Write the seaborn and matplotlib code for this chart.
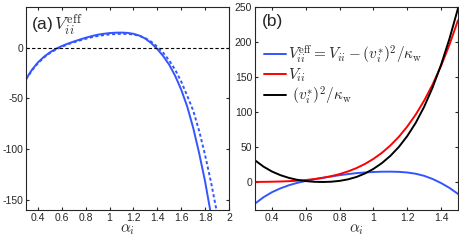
#%%
import numpy as np
import pandas as pd
import matplotlib
matplotlib.use('Agg')
import matplotlib.pyplot as plt
import seaborn as sns

#%%
# values
alpha_b = [0.30, 0.35, 0.40, 0.45, 0.50, 0.55, 0.60, 0.65, 0.70, 0.75, 0.80, 0.85, 0.90,
           0.95, 1.00, 1.05, 1.10, 1.15, 1.20, 1.25, 1.30, 1.35, 1.40, 1.45, 1.50]
# V_ii (red)
v_ii = [0.1, 0.21, 0.41, 0.71, 1.18, 1.87, 2.84, 4.17, 5.96, 8.29, 11.31, 15.13, 19.9,
        25.8, 33.0, 41.7, 52.1, 64.5, 79.2, 96.3, 116.3, 139.4, 166.0, 196.4, 231.1]
# (v_i^*)^2 / kappa_w (black)
v_kin = [31.0, 22.0, 15.0, 9.8, 5.9, 3.1, 1.3, 0.3, 0.0, 0.4, 1.6, 3.8, 7.2,
         12.2, 18.7, 27.0, 37.3, 50.0, 65.6, 84.5, 107.5, 135.1, 167.5, 205.0, 248.0]

# V_ii^eff, solid
alpha_s = [0.30, 0.35, 0.40, 0.45, 0.50, 0.55, 0.60, 0.65, 0.70, 0.75, 0.80, 0.85, 0.90,
           0.95, 1.00, 1.05, 1.10, 1.15, 1.20, 1.25, 1.30, 1.35, 1.40, 1.45, 1.50,
           1.55, 1.60, 1.65, 1.70, 1.75, 1.80, 1.85]
v_eff = [-30.9, -21.8, -14.6, -9.1, -4.7, -1.2, 1.5, 3.9, 5.96, 7.9, 9.7, 11.3, 12.7,
         13.6, 14.3, 14.7, 14.8, 14.5, 13.6, 11.8, 8.8, 4.3, -1.5, -8.5, -17.0,
         -28.0, -41.5, -58.0, -79.0, -104.0, -132.0, -165.0]

# V_ii^eff, dashed
alpha_d = [0.30, 0.35, 0.40, 0.45, 0.50, 0.55, 0.60, 0.65, 0.70, 0.75, 0.80, 0.85, 0.90,
           0.95, 1.00, 1.05, 1.10, 1.15, 1.20, 1.25, 1.30, 1.35, 1.40, 1.45, 1.50,
           1.55, 1.60, 1.65, 1.70, 1.75, 1.80, 1.85, 1.90]
v_eff_d = [-31.5, -22.5, -15.3, -9.8, -5.4, -1.9, 0.8, 3.2, 5.2, 7.0, 8.7, 10.2, 11.4,
           12.3, 13.0, 13.4, 13.6, 13.5, 12.9, 11.6, 9.3, 5.7, 0.8, -5.3, -12.8,
           -22.0, -33.5, -47.5, -62.0, -82.0, -106.0, -133.0, -163.0]

xticks_a = [0.4, 0.6, 0.8, 1.0, 1.2, 1.4, 1.6, 1.8, 2.0]
xlabels_a = ['0.4', '0.6', '0.8', '1', '1.2', '1.4', '1.6', '1.8', '2']
yticks_a = [0, -50, -100, -150]
xticks_b = [0.4, 0.6, 0.8, 1.0, 1.2, 1.4]
xlabels_b = ['0.4', '0.6', '0.8', '1', '1.2', '1.4']
yticks_b = [0, 50, 100, 150, 200, 250]

#%%
sns.set_style('ticks')
plt.rcParams['font.family'] = ['Liberation Sans', 'DejaVu Sans']
plt.rcParams['mathtext.fontset'] = 'cm'
plt.rcParams['axes.unicode_minus'] = False
plt.rcParams['xtick.direction'] = 'in'
plt.rcParams['ytick.direction'] = 'in'
plt.rcParams['xtick.top'] = True
plt.rcParams['ytick.right'] = True
plt.rcParams['xtick.major.size'] = 2.5
plt.rcParams['ytick.major.size'] = 2.5
plt.rcParams['axes.linewidth'] = 0.8

blue = '#3355ff'
fig = plt.figure(figsize=(4.59, 2.40), dpi=100)
ax1 = fig.add_axes([26/459, 30/240, 203/459, 203/240])
ax2 = fig.add_axes([255/459, 30/240, 203/459, 203/240])

# (a)
sns.lineplot(x=alpha_s, y=v_eff, ax=ax1, color=blue, lw=1.4)
sns.lineplot(x=alpha_d, y=v_eff_d, ax=ax1, color=blue, lw=1.4, linestyle=(0, (1.6, 1.3)))
ax1.axhline(0, color='black', lw=0.8, linestyle=(0, (3, 2)))
ax1.set_xlim(0.3, 2.0)
ax1.set_ylim(-160, 40)
ax1.set_xticks(xticks_a, xlabels_a)
ax1.set_yticks(yticks_a)
ax1.tick_params(labelsize=7.5, pad=2)
ax1.set_xlabel(r'$\alpha_i$', fontsize=11, labelpad=0)
ax1.text(0.025, 0.915, r'(a)$\,V_{ii}^{\rm eff}$', transform=ax1.transAxes,
         fontsize=12.5, va='center', ha='left')

# (b)
sns.lineplot(x=alpha_s, y=v_eff, ax=ax2, color=blue, lw=1.4,
             label=r'$V_{ii}^{\rm eff} = V_{ii} - (v_i^{*})^2/\kappa_{\rm w}$')
sns.lineplot(x=alpha_b, y=v_ii, ax=ax2, color='red', lw=1.4, label=r'$V_{ii}$')
sns.lineplot(x=alpha_b, y=v_kin, ax=ax2, color='black', lw=1.4,
             label=r' $(v_i^{*})^2/\kappa_{\rm w}$')
ax2.set_xlim(0.3, 1.5)
ax2.set_ylim(-40, 250)
ax2.set_xticks(xticks_b, xlabels_b)
ax2.set_yticks(yticks_b)
ax2.tick_params(labelsize=7.5, pad=2)
ax2.set_xlabel(r'$\alpha_i$', fontsize=11, labelpad=0)
ax2.text(0.034, 0.93, '(b)', transform=ax2.transAxes, fontsize=12.5, va='center', ha='left')
ax2.legend(loc='upper left', bbox_to_anchor=(0.0, 0.865), frameon=False, fontsize=11,
           handlelength=1.4, handletextpad=0.15, labelspacing=0.05, borderaxespad=0.2)

fig.savefig('out.png', dpi=100)
